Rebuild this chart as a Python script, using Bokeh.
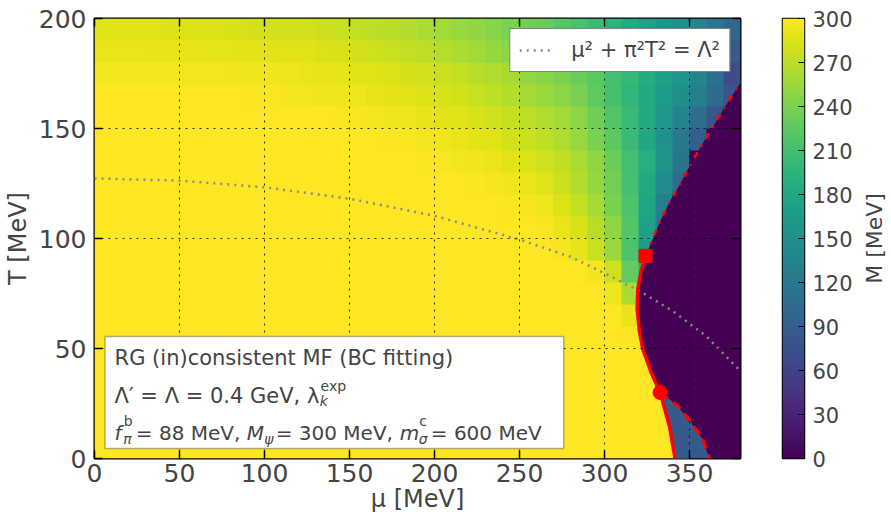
import numpy as np
from bokeh.plotting import figure
from bokeh.layouts import row
from bokeh.models import (LinearColorMapper, FixedTicker, LinearAxis, Range1d,
                          Label, BoxAnnotation, ColumnDataSource)
from bokeh.palettes import Viridis256
from bokeh.transform import transform
from bokeh.embed import file_html
from bokeh.resources import INLINE

FONT = "DejaVu Sans"

# ---------------- data ----------------
MU_RANGE = [0, 380]
T_RANGE = [0, 200]
X_TICKS = [0, 50, 100, 150, 200, 250, 300, 350]
Y_TICKS = [0, 50, 100, 150, 200]
CB_TICKS = [0, 30, 60, 90, 120, 150, 180, 210, 240, 270, 300]
M_RANGE = [0, 300]

# M [MeV] on a 10 MeV x 10 MeV grid; rows from T=195 (top) down to T=5,
# columns mu = 5, 15, ..., 375
M_ROWS = [
    [285,285,285,285,284,284,283,283,282,281,280,280,279,277,275,273,270,268,265,262,258,254,250,245,240,235,230,222,215,205,195,183,172,160,148,133,118,100],
    [291,291,291,290,290,290,289,289,288,288,287,286,285,284,282,280,278,276,273,270,267,263,258,253,248,242,236,228,220,212,203,190,178,165,150,135,112,85],
    [296,296,296,296,296,295,295,295,294,294,293,292,291,290,289,287,285,283,281,279,276,272,268,264,259,253,247,240,232,223,212,200,186,172,157,138,110,70],
    [300,300,300,300,300,300,299,299,299,298,297,296,295,294,293,292,290,288,286,284,282,279,275,271,266,261,255,248,240,225,213,198,182,165,148,128,105,80],
    [300,300,300,300,300,300,300,300,300,300,300,300,299,299,298,297,296,294,292,290,288,285,282,278,274,270,264,258,248,235,220,203,183,160,135,108,80,0],
    [300,300,300,300,300,300,300,300,300,300,300,300,300,300,300,300,299,298,297,295,293,291,288,285,281,277,271,264,254,240,224,205,180,152,120,90,0,0],
    [300,300,300,300,300,300,300,300,300,300,300,300,300,300,300,300,300,300,299,298,297,295,293,291,288,284,278,271,262,250,233,212,188,155,115,0,0,0],
    [300,300,300,300,300,300,300,300,300,300,300,300,300,300,300,300,300,300,300,300,299,299,298,296,294,291,285,277,266,252,236,212,182,145,105,0,0,0],
    [300,300,300,300,300,300,300,300,300,300,300,300,300,300,300,300,300,300,300,300,300,300,299,299,298,296,292,284,273,258,240,215,178,130,0,0,0,0],
    [300,300,300,300,300,300,300,300,300,300,300,300,300,300,300,300,300,300,300,300,300,300,300,300,299,299,297,291,282,268,250,220,172,125,0,0,0,0],
    [300,300,300,300,300,300,300,300,300,300,300,300,300,300,300,300,300,300,300,300,300,300,300,300,300,300,299,296,289,276,255,215,165,0,0,0,0,0],
    [300,300,300,300,300,300,300,300,300,300,300,300,300,300,300,300,300,300,300,300,300,300,300,300,300,300,300,300,299,295,278,228,185,0,0,0,0,0],
    [300,300,300,300,300,300,300,300,300,300,300,300,300,300,300,300,300,300,300,300,300,300,300,300,300,300,300,300,300,299,292,262,0,0,0,0,0,0],
    [300,300,300,300,300,300,300,300,300,300,300,300,300,300,300,300,300,300,300,300,300,300,300,300,300,300,300,300,300,300,299,290,0,0,0,0,0,0],
    [300,300,300,300,300,300,300,300,300,300,300,300,300,300,300,300,300,300,300,300,300,300,300,300,300,300,300,300,300,300,300,298,300,0,0,0,0,0],
    [300,300,300,300,300,300,300,300,300,300,300,300,300,300,300,300,300,300,300,300,300,300,300,300,300,300,300,300,300,300,300,300,300,0,0,0,0,0],
    [300,300,300,300,300,300,300,300,300,300,300,300,300,300,300,300,300,300,300,300,300,300,300,300,300,300,300,300,300,300,300,300,300,0,0,0,0,0],
    [300,300,300,300,300,300,300,300,300,300,300,300,300,300,300,300,300,300,300,300,300,300,300,300,300,300,300,300,300,300,300,300,300,300,0,0,0,0],
    [300,300,300,300,300,300,300,300,300,300,300,300,300,300,300,300,300,300,300,300,300,300,300,300,300,300,300,300,300,300,300,300,300,300,0,0,0,0],
    [300,300,300,300,300,300,300,300,300,300,300,300,300,300,300,300,300,300,300,300,300,300,300,300,300,300,300,300,300,300,300,300,300,300,300,0,0,0],
]

# first-order line (solid), from the square down to T = 0
FO_MU = [324.1, 321.5, 319.6, 319.2, 320.5, 322.5, 327.5, 332.7, 338.2, 341.5]
FO_T = [92.1, 85.0, 77.0, 67.9, 58.0, 49.7, 39.0, 30.0, 14.8, 0.0]
# spinodal (dashed), from the circle down to T = 0
SP_MU = [332.7, 343.1, 351.0, 357.8, 361.2, 362.0]
SP_T = [30.0, 23.9, 16.4, 8.8, 1.2, 0.0]
# crossover (dash-dot), from the square up to the right edge
CR_MU = [324.1, 333.3, 339.2, 343.7, 350.6, 357.8, 365.3, 372.9, 376.8, 380.0]
CR_T = [92.1, 108.8, 117.9, 123.6, 133.8, 143.2, 152.7, 162.4, 167.1, 171.0]
# M inside the restored phase and inside the spinodal band
M_RESTORED = 0
M_SPINODAL = 85

# mu^2 + pi^2 T^2 = Lambda^2 curve
LC_MU = [0, 50, 100, 150, 200, 250, 280, 300, 320, 340, 360, 380]
LC_T = [127.3, 126.3, 123.3, 118.1, 110.3, 99.5, 91.7, 84.2, 76.4, 67.1, 55.5, 39.7]

# ---------------- main figure ----------------
mapper = LinearColorMapper(palette=Viridis256, low=M_RANGE[0], high=M_RANGE[1])

p = figure(frame_width=646, frame_height=440, x_range=Range1d(*MU_RANGE), y_range=Range1d(*T_RANGE),
           output_backend="svg", toolbar_location=None,
           min_border_left=89, min_border_right=10, min_border_top=18, min_border_bottom=0)
p.background_fill_color = "white"
p.border_fill_color = "white"
p.outline_line_color = "black"
p.outline_line_width = 2

img = np.array(M_ROWS[::-1], dtype=float)
p.image(image=[img], x=MU_RANGE[0], y=T_RANGE[0], dw=MU_RANGE[1] - MU_RANGE[0],
        dh=T_RANGE[1] - T_RANGE[0], color_mapper=mapper)

# regions: restored phase and spinodal band
n_dot = FO_T.index(SP_T[0])
rest_x = CR_MU + [MU_RANGE[1]] + SP_MU[::-1] + FO_MU[:n_dot + 1][::-1]
rest_y = CR_T + [T_RANGE[0]] + SP_T[::-1] + FO_T[:n_dot + 1][::-1]
spin_x = FO_MU[n_dot:] + SP_MU[::-1]
spin_y = FO_T[n_dot:] + SP_T[::-1]
reg = ColumnDataSource(dict(xs=[spin_x, rest_x], ys=[spin_y, rest_y], M=[M_SPINODAL, M_RESTORED]))
p.patches("xs", "ys", source=reg, fill_color=transform("M", mapper), line_color=None)

# gray curve
p.line(LC_MU, LC_T, line_color="#8a8a8a", line_width=2.5, line_dash="2 5",
       legend_label="μ² + π²T² = Λ²")

# red lines
p.line(FO_MU, FO_T, line_color="red", line_width=3.5)
p.line(SP_MU, SP_T, line_color="red", line_width=3, line_dash="10 6")
p.line(CR_MU, CR_T, line_color="red", line_width=2.5, line_dash="6 7 2 7")
p.scatter([FO_MU[0]], [FO_T[0]], marker="square", size=13, color="red")
p.scatter([SP_MU[0]], [SP_T[0]], marker="circle", size=14, color="red")

# axes
for ax in (p.xaxis[0], p.yaxis[0]):
    ax.major_label_text_font = FONT
    ax.major_label_text_font_size = "25px"
    ax.major_tick_in = 8
    ax.major_tick_out = 0
    ax.major_tick_line_width = 1.5
    ax.minor_tick_line_color = None
    ax.axis_line_color = None
    ax.axis_label_text_font = FONT
    ax.axis_label_text_font_size = "24px"
    ax.axis_label_text_font_style = "normal"
p.xaxis.ticker = FixedTicker(ticks=X_TICKS)
p.yaxis.ticker = FixedTicker(ticks=Y_TICKS)
p.xaxis.axis_label = "μ [MeV]"
p.xaxis.major_label_standoff = 5
p.xaxis.axis_label_standoff = 0
p.yaxis.axis_label = "T [MeV]"
p.yaxis.major_label_standoff = 8
p.yaxis.axis_label_standoff = 4

# tick-only axes on the top and right sides (no labels)
top = LinearAxis(ticker=FixedTicker(ticks=X_TICKS), major_label_text_font_size="0px",
                 major_label_text_color=None,
                 major_tick_in=8, major_tick_out=0, major_tick_line_width=1.5,
                 minor_tick_line_color=None, axis_line_color=None, major_label_standoff=0)
p.add_layout(top, "above")
right = LinearAxis(ticker=FixedTicker(ticks=Y_TICKS), major_label_text_font_size="0px",
                   major_label_text_color=None,
                   major_tick_in=8, major_tick_out=0, major_tick_line_width=1.5,
                   minor_tick_line_color=None, axis_line_color=None, major_label_standoff=0)
p.add_layout(right, "right")

for g, t in ((p.xgrid[0], X_TICKS), (p.ygrid[0], Y_TICKS)):
    g.ticker = FixedTicker(ticks=t)
    g.grid_line_color = "black"
    g.grid_line_dash = "2 5"
    g.grid_line_width = 1
    g.grid_line_alpha = 0.8
    g.level = "guide"

# legend
lg = p.legend[0]
lg.location = "top_right"
lg.margin = 10
lg.padding = 9
lg.border_line_color = "black"
lg.border_line_width = 1.5
lg.background_fill_alpha = 1
lg.label_text_font = FONT
lg.label_text_font_size = "21px"
lg.glyph_width = 32
lg.glyph_height = 24
lg.label_height = 24
lg.label_standoff = 20
lg.spacing = 0

# info box
p.add_layout(BoxAnnotation(left=6.2, right=276, bottom=4.5, top=55.5, fill_color="white",
                           fill_alpha=1, line_color="black", line_width=1.5))

def txt(x, y, s, size="21px", style="normal"):
    p.add_layout(Label(x=x, y=y, text=s, text_font=FONT, text_font_size=size,
                       text_font_style=style, text_baseline="alphabetic", text_align="left"))

txt(11.8, 45.5, "RG (in)consistent MF (BC fitting)")
txt(11.8, 28.2, "Λ′ = Λ = 0.4 GeV, λ")
txt(132.5, 26.0, "k", "14px", "italic")
txt(133.0, 33.0, "exp", "14px")
txt(11.8, 11.8, "f", "20px", "italic")
txt(17.2, 17.0, "b", "14px")
txt(16.9, 9.0, "π", "14px", "italic")
txt(24.3, 11.8, "= 88 MeV,", "20px")
txt(89.6, 11.8, "M", "20px", "italic")
txt(99.9, 9.0, "ψ", "14px", "italic")
txt(106.6, 11.8, "= 300 MeV,", "20px")
txt(179.5, 11.8, "m", "20px", "italic")
txt(191.1, 17.0, "c", "14px")
txt(190.8, 9.0, "σ", "14px", "italic")
txt(197.8, 11.8, "= 600 MeV", "20px")

# ---------------- colour bar figure ----------------
CB_LEVELS = np.linspace(M_RANGE[0], M_RANGE[1], 256).reshape(256, 1)
cb = figure(frame_width=22, frame_height=440, x_range=Range1d(0, 1), y_range=Range1d(*M_RANGE),
            output_backend="svg", toolbar_location=None, x_axis_location=None,
            y_axis_location="right", min_border_left=32, min_border_right=50,
            min_border_top=18, min_border_bottom=20)
cb.image(image=[CB_LEVELS], x=0, y=M_RANGE[0], dw=1, dh=M_RANGE[1] - M_RANGE[0], color_mapper=mapper)
cb.grid.visible = False
cb.outline_line_color = "black"
cb.outline_line_width = 1.5
cb.background_fill_color = "white"
cb.border_fill_color = "white"
ya = cb.yaxis[0]
ya.ticker = FixedTicker(ticks=CB_TICKS)
ya.major_label_text_font = FONT
ya.major_label_text_font_size = "21px"
ya.major_label_standoff = 8
ya.major_tick_in = 6
ya.major_tick_out = 0
ya.major_tick_line_width = 1.2
ya.minor_tick_line_color = None
ya.axis_line_color = None

# ---------------- colour bar title (left-axis label of a thin figure) ----------------
lab = figure(frame_width=1, frame_height=440, x_range=Range1d(0, 1), y_range=Range1d(*M_RANGE),
             output_backend="svg", toolbar_location=None, x_axis_location=None,
             min_border_left=31, min_border_right=0, min_border_top=18, min_border_bottom=20)
lab.grid.visible = False
lab.outline_line_color = None
lab.background_fill_color = "white"
lab.border_fill_color = "white"
la = lab.yaxis[0]
la.ticker = FixedTicker(ticks=[])
la.major_tick_line_color = None
la.minor_tick_line_color = None
la.axis_line_color = None
la.major_label_standoff = 0
la.major_tick_out = 0
la.major_tick_in = 0
la.axis_label = "M [MeV]"
la.axis_label_text_font = FONT
la.axis_label_text_font_size = "22px"
la.axis_label_text_font_style = "normal"
la.axis_label_standoff = 0

layout = row(p, cb, lab)
open("out.html", "w").write(file_html(layout, INLINE))
